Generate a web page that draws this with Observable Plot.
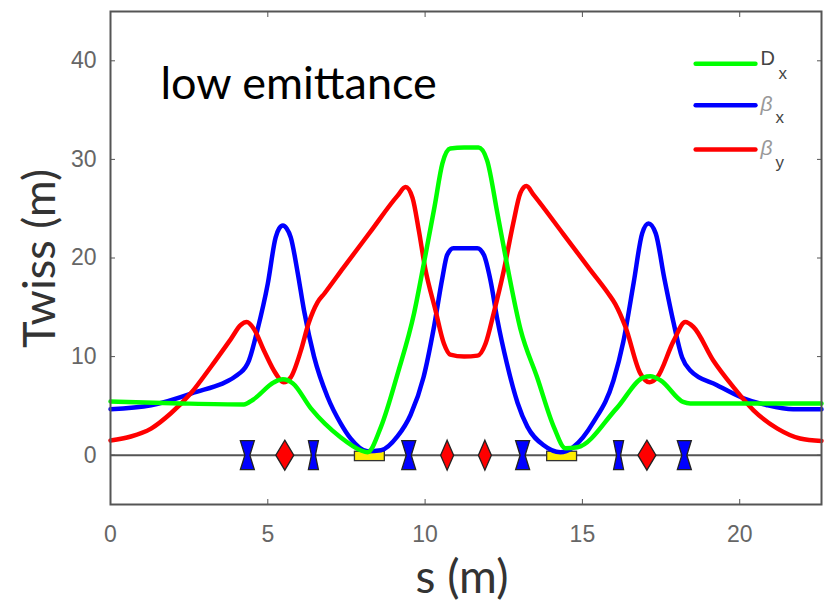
<!DOCTYPE html>
<html><head><meta charset="utf-8">
<script src="https://cdn.jsdelivr.net/npm/d3@7"></script>
<script src="https://cdn.jsdelivr.net/npm/@observablehq/plot@0.6"></script>
<style>html,body{margin:0;padding:0;background:#fff}svg{display:block}</style>
</head><body><div id="chart"></div>
<script>
const blueS=[0,1.29,2.56,4.14,4.4,4.67,5.0,5.25,5.36,5.48,5.6,5.73,5.95,6.15,6.47,6.9,7.32,7.63,8.17,8.6,9.12,9.54,9.95,10.27,10.55,10.7,10.9,11.66,11.87,12.08,12.3,12.6,12.94,13.25,13.77,14.3,14.7,15.36,15.99,16.3,16.63,16.9,17.1,17.33,17.6,17.9,18.17,18.43,19.28,20.1,20.87,21.7,22.6];
const blueV=[4.66,5.07,6.25,8.4,9.6,12.7,17.4,22.1,23,23.3,23,22.1,18.5,14.7,10,5.9,3.2,1.7,0.4,0.5,1.9,4.1,7.9,12.8,18,20.3,21,21,20.3,17.7,13.7,9.3,5.3,2.9,1,0.3,0.8,3.4,7.6,11.5,17.5,22.5,23.5,22.5,18,13.4,9.9,8.6,7.1,5.8,5.07,4.66,4.66];
const redS=[0,0.65,1.29,1.92,2.56,3.2,3.83,4.14,4.33,4.56,4.88,5.25,5.5,5.73,6.05,6.3,6.58,6.8,7.4,8.27,9.12,9.38,9.6,9.8,10,10.33,10.6,10.8,11.24,11.67,11.92,12.18,12.5,12.8,13.03,13.22,13.45,14.4,15.25,15.8,16.05,16.37,16.84,17.13,17.38,17.9,18.27,18.53,19.16,19.8,20.44,21.2,21.92,22.6];
const redV=[1.5,1.9,2.7,4.25,6.3,9,11.8,13.2,13.5,12.8,10.6,8.3,7.4,7.9,10.6,13.4,15.5,16.4,19,22.7,26.3,27.2,26.1,22.8,19,14.7,11.3,10.2,10,10.1,11.3,14.4,18.7,23.5,26.6,27.3,26.4,22.4,18.8,16.5,15.3,13,8.3,7.4,7.9,11.6,13.5,13,9.6,6.9,4.55,2.7,1.7,1.45];
const greenS=[0,2.24,4.24,4.52,5.2,5.48,5.79,6.37,7.32,7.95,8.17,8.6,9.13,9.65,9.97,10.3,10.55,10.8,11.24,11.7,11.97,12.3,12.6,13.03,13.56,14.1,14.46,14.84,16.1,16.95,17.16,17.48,18.2,18.43,22.6];
const greenV=[5.45,5.25,5.15,5.6,7.4,7.7,7.3,4.75,1.8,0.5,0.3,2.9,8.3,14.4,19.6,25.2,29.6,31.1,31.2,31.2,29.9,24.5,19.4,12.8,7.9,2.8,0.7,0.8,4.8,7.9,8,7.6,5.4,5.25,5.25];
const wideBowties=[4.35,9.48,13.1,18.24];
const narrowBowties=[6.45,16.15];
const wideDiamonds=[5.54,17.05];
const narrowDiamonds=[10.7,11.9];
const dipoleStart=[7.77,13.88];
const dipoleEnd=[8.72,14.83];
const dipoleTop=0.35;
const dipoleBottom=-0.6;
const xTicks=[0,5,10,15,20];
const yTicks=[0,10,20,30,40];
const legendX=[18.6,20.5];
const legendY={Dx:39.7,bx:35.5,by:31};

const pts=(s,v)=>s.map((x,i)=>({x,y:v[i]}));
const bowtie=(w,waist,h)=>({draw(c){c.moveTo(-w,-h);c.lineTo(w,-h);c.lineTo(waist,0);c.lineTo(w,h);c.lineTo(-w,h);c.lineTo(-waist,0);c.closePath();}});
const diamond=(w,h)=>({draw(c){c.moveTo(0,-h);c.lineTo(w,0);c.lineTo(0,h);c.lineTo(-w,0);c.closePath();}});
const magnet=(vals,symbol,fill)=>Plot.dot(vals,{x:d=>d,y:()=>0,symbol,r:1,fill,stroke:"#222",strokeWidth:1.3});
const curve=(s,v,stroke)=>Plot.line(pts(s,v),{x:"x",y:"y",stroke,strokeWidth:4.5,curve:"monotone-x"});
const legendLine=(y,stroke)=>Plot.line(legendX.map(x=>({x,y})),{x:"x",y:"y",stroke,strokeWidth:4.5});
const note=(t,px,py,size,opts={})=>Plot.text([t],{frameAnchor:"top-left",dx:px-110,dy:py-11,fontSize:size,textAnchor:"start",lineAnchor:"middle",fill:"#444",fontFamily:"Liberation Sans",...opts});

const plot=Plot.plot({
  width:825,height:602,marginLeft:110,marginRight:4,marginTop:11,marginBottom:98,
  style:{background:"#fff",fontFamily:"Liberation Sans"},
  x:{domain:[0,22.6],label:null},
  y:{domain:[-5,45],label:null},
  marks:[
    Plot.ruleY([0],{stroke:"#555",strokeWidth:2}),
    Plot.rect(dipoleStart.map((a,i)=>({a,b:dipoleEnd[i]})),{x1:"a",x2:"b",y1:()=>dipoleBottom,y2:()=>dipoleTop,fill:"#ffee00",stroke:"#333",strokeWidth:1.3}),
    magnet(wideBowties,bowtie(7,2.5,14.5),"#0000ff"),
    magnet(narrowBowties,bowtie(5,2,14.5),"#0000ff"),
    magnet(wideDiamonds,diamond(9,15),"#ff0000"),
    magnet(narrowDiamonds,diamond(6.5,15),"#ff0000"),
    curve(blueS,blueV,"#0000ff"),
    curve(redS,redV,"#ff0000"),
    curve(greenS,greenV,"#00ff00"),
    legendLine(legendY.Dx,"#00ff00"),
    legendLine(legendY.bx,"#0000ff"),
    legendLine(legendY.by,"#ff0000"),
    Plot.frame({stroke:"#555",strokeWidth:2}),
    Plot.axisX(xTicks,{anchor:"bottom",tickSize:-5,tickPadding:26,fontSize:23,stroke:"#555",fill:"#666",label:null}),
    Plot.axisX(xTicks,{anchor:"top",tickSize:-5,tickFormat:()=>"",stroke:"#555",label:null}),
    Plot.axisY(yTicks,{anchor:"left",tickSize:-5,tickPadding:19,fontSize:23,stroke:"#555",fill:"#666",label:null}),
    Plot.axisY(yTicks,{anchor:"right",tickSize:-5,tickFormat:()=>"",stroke:"#555",label:null}),
    note("low emittance",160,84,45,{fill:"#000",fontFamily:"Lato"}),
    note("D",760,58,20),
    note("x",778,73,17),
    note("β",760,104,21,{fill:"#999",fontStyle:"italic"}),
    note("x",775,117,17),
    note("β",760,148,21,{fill:"#999",fontStyle:"italic"}),
    note("y",775,162,17),
    note("s (m)",415,578,46,{fontFamily:"Lato",fill:"#333"}),
    Plot.text(["Twiss (m)"],{frameAnchor:"top-left",dx:40-110,dy:258-11,rotate:-90,fontSize:45,fontFamily:"Lato",fill:"#333",textAnchor:"middle",lineAnchor:"middle"})
  ]
});
document.getElementById("chart").append(plot);
</script></body></html>
